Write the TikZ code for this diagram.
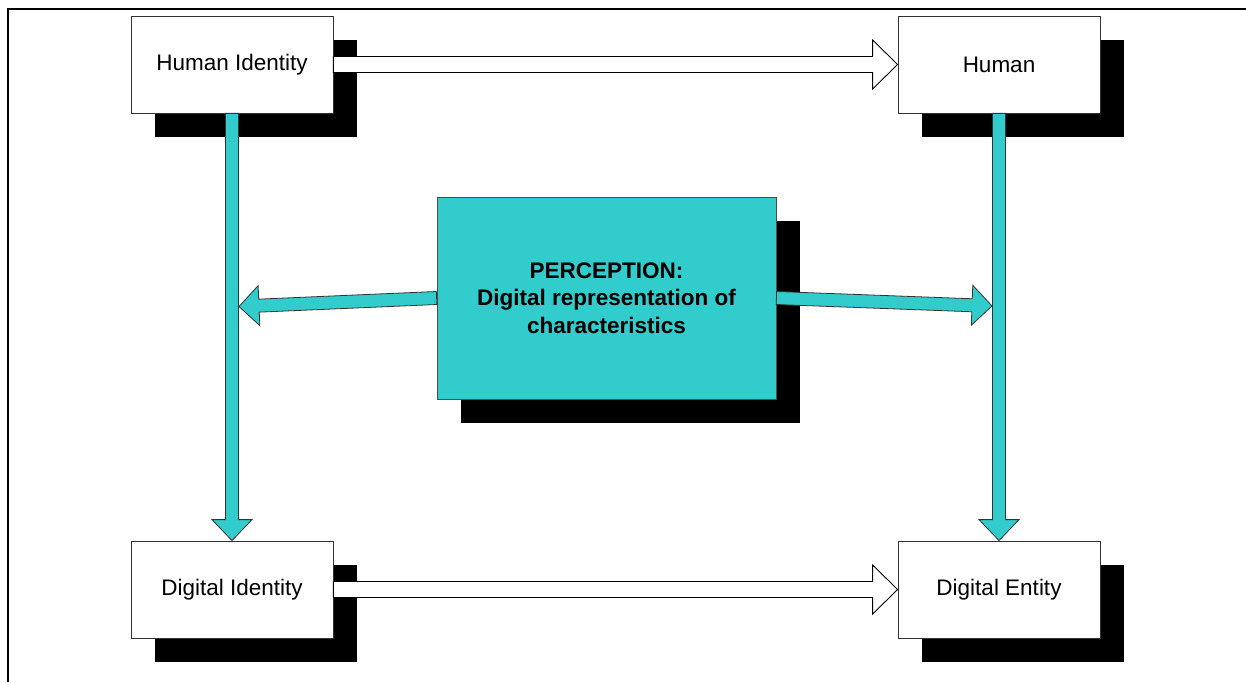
\documentclass[tikz,border=0pt]{standalone}
\usepackage{fontspec}
\setmainfont{Liberation Sans}
\usetikzlibrary{calc,shadows}
\definecolor{percfill}{RGB}{51,204,204}

% block arrow: style, start, end, shaft half width, head half width, head length
\newcommand\blockarr[6]{%
  \path ($(#3)!#6!(#2)$) coordinate (ba-h);
  \draw[#1] ($(#2)!#4!90:(#3)$) -- ($(ba-h)!#4!90:(#3)$) -- ($(ba-h)!#5!90:(#3)$)
    -- (#3) -- ($(ba-h)!#5!-90:(#3)$) -- ($(ba-h)!#4!-90:(#3)$) -- ($(#2)!#4!-90:(#3)$) -- cycle;
}

\tikzset{
  boxshadow/.style={drop shadow={shadow xshift=24pt, shadow yshift=-24pt, fill=black, opacity=1}},
  entity/.style={draw=black!80, line width=0.8pt, fill=white, minimum width=202pt,
    minimum height=97pt, inner sep=0pt, font=\fontsize{22.5}{28}\selectfont, boxshadow},
  perception/.style={draw=black!70, line width=0.8pt, fill=percfill, minimum width=339pt,
    minimum height=202pt, inner sep=0pt, align=center,
    font=\fontsize{22.5}{27.5}\selectfont\bfseries, boxshadow},
  hollow/.style={draw=black, line width=0.9pt, fill=white},
  tealarr/.style={draw=black!80, line width=0.8pt, fill=percfill},
}

\begin{document}
\begin{tikzpicture}[x=1pt, y=-1pt]
  \useasboundingbox (0,0) rectangle (1246,682);
  \fill[white] (0,0) rectangle (1246,682);

  % frame on the top and left
  \draw[line width=2pt] (8,682) -- (8,9) -- (1246,9);

  % boxes
  \node[entity] (hid) at (232,64.5) {Human Identity};
  \node[entity] (hum) at (999,64.5) {Human};
  \node[entity] (did) at (232,589.5) {Digital Identity};
  \node[entity] (den) at (999,589.5) {Digital Entity};
  \node[perception] (cen) at (606.5,298) {PERCEPTION:\\Digital representation of\\characteristics};

  % white arrows between the rows
  \blockarr{hollow}{hid.east}{hum.west}{8pt}{24.5pt}{25pt}
  \blockarr{hollow}{did.east}{den.west}{8pt}{24.5pt}{25pt}

  % teal arrows down the columns
  \blockarr{tealarr}{hid.south}{did.north}{6.5pt}{20pt}{21pt}
  \blockarr{tealarr}{hum.south}{den.north}{6.5pt}{20pt}{21pt}

  % teal arrows from the perception box to the columns
  \coordinate (lt) at (239,306.5);
  \coordinate (rt) at (992,306);
  \blockarr{tealarr}{cen.west}{lt}{6.5pt}{20pt}{20pt}
  \blockarr{tealarr}{cen.east}{rt}{6.5pt}{20pt}{20pt}
\end{tikzpicture}
\end{document}
